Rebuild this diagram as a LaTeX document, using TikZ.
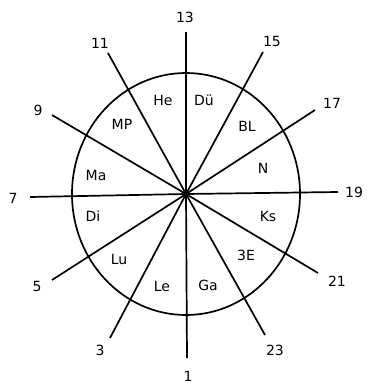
\documentclass[tikz,border=0pt]{standalone}
\usepackage{fontspec}
\setmainfont{DejaVu Sans}
\begin{document}
\begin{tikzpicture}[x=1pt,y=-1pt,
  ray/.style={line width=1.7pt},
  lbl/.style={inner sep=0pt,font=\fontsize{14}{16}\selectfont},
  num/.style={inner sep=0pt,font=\fontsize{14}{16}\selectfont}]
\useasboundingbox (0,0) rectangle (367,383);
\coordinate (c) at (186,194);
\draw[line width=1.7pt] (c) ellipse [x radius=114, y radius=121];
\coordinate (e13) at (186,32);
\coordinate (e1) at (187,358);
\coordinate (e11) at (108,53);
\coordinate (e15) at (263,52);
\coordinate (e9) at (52,115);
\coordinate (e17) at (315,110);
\coordinate (e7) at (30,197);
\coordinate (e19) at (338,192);
\coordinate (e5) at (52,280);
\coordinate (e21) at (318,273);
\coordinate (e3) at (110,338);
\coordinate (e23) at (265,335);
\foreach \e in {e1,e3,e5,e7,e9,e11,e13,e15,e17,e19,e21,e23}
  \draw[ray] (c) -- (\e);
\fill (c) circle (3.2);
\node[num] (n13) at (185,17) {13};
\node[num] (n11) at (100,43) {11};
\node[num] (n15) at (272,41) {15};
\node[num] (n9) at (38,110) {9};
\node[num] (n17) at (332,103) {17};
\node[num] (n7) at (13,198) {7};
\node[num] (n19) at (354,192) {19};
\node[num] (n5) at (37,286) {5};
\node[num] (n21) at (337,281) {21};
\node[num] (n3) at (100,350) {3};
\node[num] (n23) at (275,350) {23};
\node[num] (n1) at (188,376) {1};
\node[lbl] (he) at (163,100) {He};
\node[lbl] (du) at (204,100) {Dü};
\node[lbl] (mp) at (122,124) {MP};
\node[lbl] (bl) at (247,126) {BL};
\node[lbl] (ma) at (96,175) {Ma};
\node[lbl] (nn) at (263,168) {N};
\node[lbl] (di) at (93,216) {Di};
\node[lbl] (ks) at (268,216) {Ks};
\node[lbl] (lu) at (119,259) {Lu};
\node[lbl] (te) at (246,255) {3E};
\node[lbl] (le) at (162,286) {Le};
\node[lbl] (ga) at (208,285) {Ga};
\end{tikzpicture}
\end{document}
